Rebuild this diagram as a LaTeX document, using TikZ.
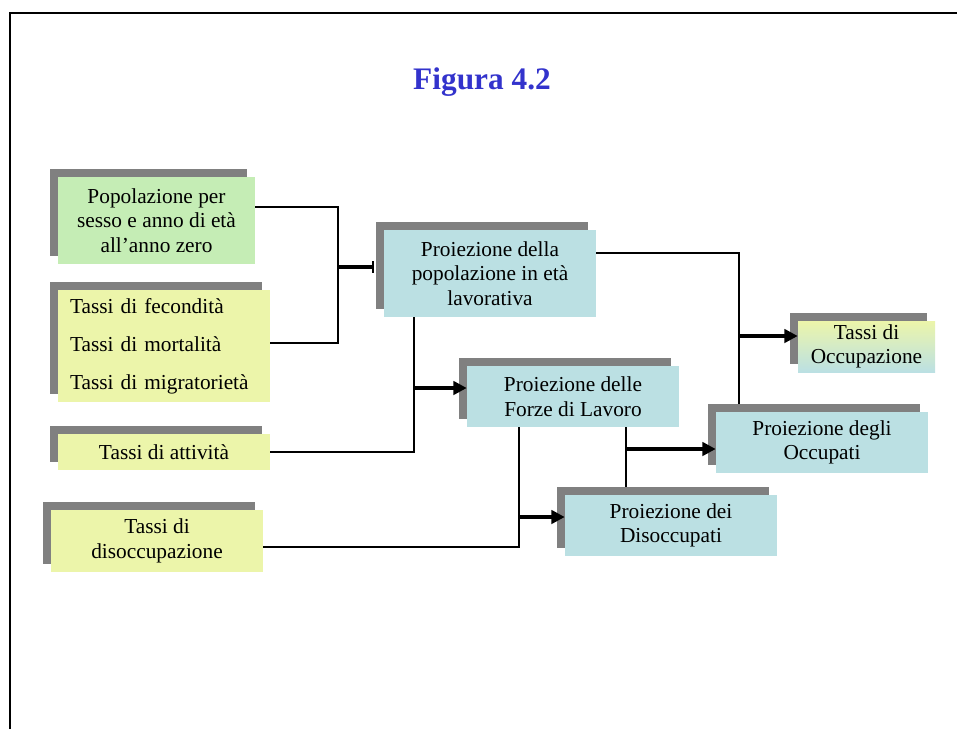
\documentclass[tikz,border=0pt]{standalone}
\usepackage{fontspec}
\setmainfont{Liberation Serif}
\usetikzlibrary{arrows.meta, shadows}

\definecolor{boxgreen}{RGB}{197,237,181}
\definecolor{boxyellow}{RGB}{236,245,170}
\definecolor{boxblue}{RGB}{187,224,227}
\definecolor{shadowgray}{RGB}{128,128,128}
\definecolor{titleblue}{RGB}{51,51,204}

\begin{document}
\begin{tikzpicture}[
    x=0.75pt, y=-0.75pt,
    box/.style={rectangle, fill=boxblue, minimum width=159pt, minimum height=45.75pt,
        inner sep=2pt, align=center, font=\fontsize{16}{18.4}\selectfont,
        general shadow={fill=shadowgray, shadow xshift=-6pt, shadow yshift=6pt}},
    wire/.style={draw, line width=1.5pt},
    feed/.style={draw, line width=3pt, -{Triangle[length=10pt, width=10pt]}}
]
\useasboundingbox (0,0) rectangle (957,729);
\draw[line width=1.6pt] (10,729) -- (10,13) -- (957,13);
\node[text=titleblue, font=\fontsize{23.5}{28}\bfseries\selectfont] (title) at (482,82) {Figura 4.2};
% Boxes
\node[box, fill=boxgreen, minimum width=147.75pt, minimum height=65.25pt] (pop) at (156.5,220.5)
    {Popolazione per\\sesso e anno di età\\all’anno zero};
\node[box, fill=boxyellow, minimum height=84pt, align=left, text width=141pt, inner xsep=9pt,
    font=\fontsize{16}{28.5}\selectfont] (tas) at (164,346)
    {Tassi di fecondità\\Tassi di mortalità\\Tassi di migratorietà};
\node[box, fill=boxyellow, minimum height=27pt] (att) at (164,452) {Tassi di attività};
\node[box, fill=boxyellow, minimum height=46.5pt] (dis) at (157,541) {Tassi di\\disoccupazione};
\node[box, minimum height=65.25pt] (plav) at (490,273.5)
    {Proiezione della\\popolazione in età\\lavorativa};
\node[box] (fdl) at (573,396.5) {Proiezione delle\\Forze di Lavoro};
\node[box, top color=boxyellow, bottom color=boxblue, minimum width=102.75pt, minimum height=38.25pt]
    (tocc) at (866.5,346.5) {Tassi di\\Occupazione};
\node[box] (occ) at (822,442.5) {Proiezione degli\\Occupati};
\node[box] (disocc) at (671,525.5) {Proiezione dei\\Disoccupati};
% Joints
\coordinate (j1) at (338,267);
\coordinate (j2) at (414,388);
\coordinate (j3) at (739,336);
\coordinate (j4) at (626,449);
\coordinate (j5) at (519,517);
% Connectors
\draw[wire] (pop.east |- 0,207) -| (j1);
\draw[wire] (tas.east |- 0,343) -| (j1);
\draw[line width=3pt, -{Bar[width=9pt, line width=1.5pt]}, shorten >=7pt] (j1) -- (plav.west |- j1);
\draw[wire] (j2 |- plav.south) |- (att.east);
\draw[feed] (j2) -- (fdl.west |- j2);
\draw[wire, shorten >=6pt] (plav.east |- 0,253) -| (j3 |- occ.north);
\draw[feed] (j3) -- (tocc.west |- j3);
\draw[wire, shorten >=6pt] (j4 |- fdl.south) -- (j4 |- disocc.north);
\draw[feed] (j4) -- (occ.west |- j4);
\draw[wire] (j5 |- fdl.south) |- (dis.east |- 0,547);
\draw[feed] (j5) -- (disocc.west |- j5);
\end{tikzpicture}
\end{document}
